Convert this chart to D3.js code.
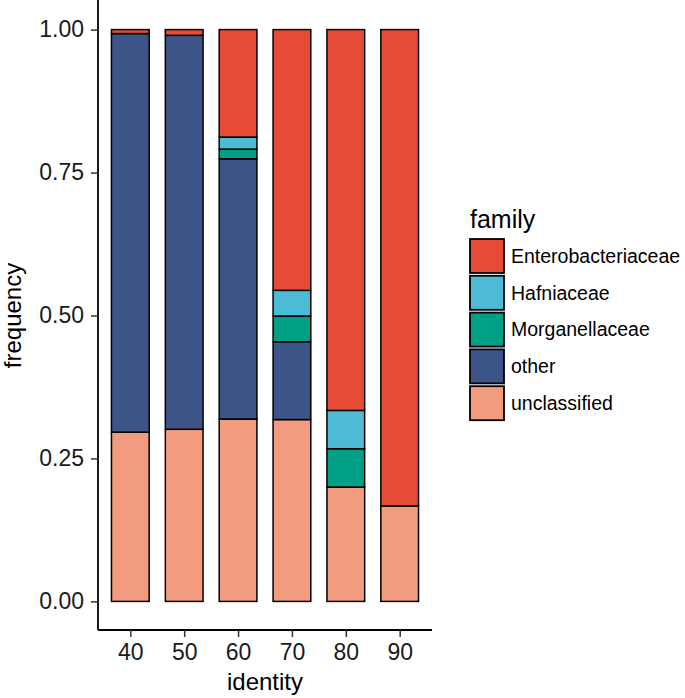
<!DOCTYPE html>
<html>
<head>
<meta charset="utf-8">
<script src="https://cdn.jsdelivr.net/npm/d3@7"></script>
<style>
  body { margin: 0; background: #fff; }
  text { font-family: "Liberation Sans", Arial, sans-serif; }
</style>
</head>
<body>
<div id="chart"></div>
<script>
// data
const identity = ["40", "50", "60", "70", "80", "90"];
const families = ["Enterobacteriaceae", "Hafniaceae", "Morganellaceae", "other", "unclassified"];
const unclassified = [0.296, 0.301, 0.319, 0.318, 0.200, 0.167];
const other        = [0.697, 0.689, 0.455, 0.136, 0, 0];
const morganella   = [0, 0, 0.017, 0.045, 0.067, 0];
const hafnia       = [0, 0, 0.021, 0.045, 0.067, 0];
const entero       = [0.007, 0.010, 0.188, 0.456, 0.666, 0.833];
const colors = ["#E64B35", "#4DBBD5", "#00A087", "#3C5488", "#F39B7F"];

const W = 685, H = 698;
const margin = {top: 1, right: 253, bottom: 68, left: 98};
const width = W - margin.left - margin.right;
const height = H - margin.top - margin.bottom;

const svg = d3.select("#chart").append("svg")
    .attr("width", W)
    .attr("height", H);

const g = svg.append("g")
    .attr("transform", `translate(${margin.left},${margin.top})`);

// build rows for stacking
const rows = identity.map((id, i) => ({
    identity: id,
    unclassified: unclassified[i],
    other: other[i],
    Morganellaceae: morganella[i],
    Hafniaceae: hafnia[i],
    Enterobacteriaceae: entero[i]
}));

// stack from the bottom: unclassified first
const stackOrder = ["unclassified", "other", "Morganellaceae", "Hafniaceae", "Enterobacteriaceae"];
const series = d3.stack().keys(stackOrder)(rows);

const color = d3.scaleOrdinal().domain(families).range(colors);

// ggplot style discrete axis: 0.6 units padding on each end
const step = width / (identity.length - 1 + 1.2);
const x = d3.scalePoint()
    .domain(identity)
    .range([0.6 * step, width - 0.6 * step]);
const barW = 0.7 * step;

const y = d3.scaleLinear()
    .domain([-0.05, 1.05])
    .range([height, 0]);

g.selectAll("g.layer")
    .data(series)
    .join("g")
      .attr("class", "layer")
      .attr("fill", d => color(d.key))
    .selectAll("rect")
    .data(d => d.filter(s => s[1] - s[0] > 0))
    .join("rect")
      .attr("x", d => x(d.data.identity) - barW / 2)
      .attr("y", d => y(d[1]))
      .attr("width", barW)
      .attr("height", d => y(d[0]) - y(d[1]))
      .attr("stroke", "#000")
      .attr("stroke-width", 1.5);

// axes
const yAxis = g.append("g")
    .call(d3.axisLeft(y).tickValues([0, 0.25, 0.5, 0.75, 1]).tickFormat(d3.format(".2f")).tickSize(7).tickPadding(7));
const xAxis = g.append("g")
    .attr("transform", `translate(0,${height})`)
    .call(d3.axisBottom(x).tickSize(7).tickPadding(7));

[xAxis, yAxis].forEach(a => {
    a.select(".domain").attr("stroke", "#000").attr("stroke-width", 1.8);
    a.selectAll(".tick line").attr("stroke", "#333").attr("stroke-width", 1.5);
    a.selectAll(".tick text").attr("fill", "#1a1a1a").style("font-size", "23px")
        .style("font-family", "'Liberation Sans', Arial, sans-serif");
});
xAxis.select(".domain").attr("d", `M0,0H${width}`);
yAxis.select(".domain").attr("d", `M0,${height}V-1`);

// axis titles
svg.append("text")
    .attr("x", margin.left + width / 2)
    .attr("y", 690)
    .attr("text-anchor", "middle")
    .style("font-size", "24px")
    .text("identity");

svg.append("text")
    .attr("transform", `translate(21,${margin.top + height / 2}) rotate(-90)`)
    .attr("text-anchor", "middle")
    .style("font-size", "24px")
    .text("frequency");

// legend
const legend = svg.append("g").attr("transform", "translate(470,228)");
legend.append("text")
    .attr("x", 0)
    .attr("y", 0)
    .style("font-size", "25px")
    .text("family");

const item = legend.selectAll("g.item")
    .data(families)
    .join("g")
      .attr("class", "item")
      .attr("transform", (d, i) => `translate(0,${11 + i * 36.8})`);

item.append("rect")
    .attr("width", 34)
    .attr("height", 34)
    .attr("fill", d => color(d))
    .attr("stroke", "#000")
    .attr("stroke-width", 1.8);

item.append("text")
    .attr("x", 41)
    .attr("y", 17)
    .attr("dy", "0.35em")
    .style("font-size", "19.5px")
    .text(d => d);
</script>
</body>
</html>
